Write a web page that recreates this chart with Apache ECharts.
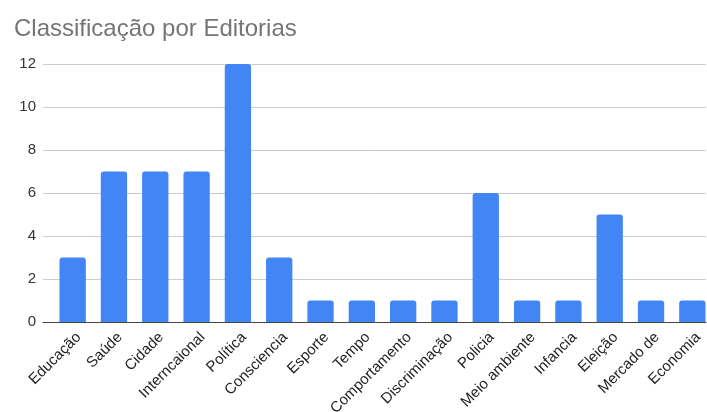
<!DOCTYPE html>
<html><head><meta charset="utf-8">
<script src="https://cdn.jsdelivr.net/npm/echarts@6/dist/echarts.min.js"></script>
<style>html,body{margin:0;padding:0;background:#fff}#c{width:707px;height:412px}</style>
</head><body><div id="c"></div>
<script>
const categories = ["Educação","Saúde","Cidade","Interncaional","Política","Consciencia","Esporte","Tempo","Comportamento","Discriminação","Policia","Meio ambiente","Infancia","Eleição","Mercado de","Economia"];
const values = [3,7,7,7,12,3,1,1,1,1,6,1,1,5,1,1];
const yTicks = [0,2,4,6,8,10,12];

const FONT = 'Arial, "Liberation Sans", sans-serif';
const chart = echarts.init(document.getElementById('c'), null, {renderer:'canvas'});
chart.setOption({
  animation:false,
  title:{text:'Classificação por Editorias',left:9,top:12,textStyle:{fontFamily:FONT,fontSize:24,fontWeight:'normal',color:'#757575'}},
  grid:[
    {left:43,right:1,top:64,bottom:90,containLabel:false,outerBoundsMode:'none'},
    {left:52,width:661,top:64,bottom:90,containLabel:false,outerBoundsMode:'none'},
    {left:58,width:661,top:64,bottom:90,containLabel:false,outerBoundsMode:'none'}
  ],
  xAxis:[
    {type:'value',gridIndex:0,min:0,max:1,axisLine:{show:true,onZero:false,lineStyle:{color:'#444',width:1}},
     axisTick:{show:false},axisLabel:{show:false},splitLine:{show:false}},
    {type:'category',gridIndex:1,data:categories,
     axisLine:{show:false},axisTick:{show:false},axisLabel:{show:false}},
    {type:'category',gridIndex:2,data:categories,
     axisLine:{show:false},axisTick:{show:false},
     axisLabel:{rotate:45,interval:0,fontFamily:FONT,fontSize:15,color:'#222',margin:13}}
  ],
  yAxis:[
    {type:'value',gridIndex:0,min:yTicks[0],max:yTicks[yTicks.length-1],interval:2,
     axisLine:{show:false},axisTick:{show:false},
     splitLine:{lineStyle:{color:'#cccccc'}},
     axisLabel:{fontFamily:FONT,fontSize:15,color:'#333',margin:7}},
    {type:'value',gridIndex:1,min:yTicks[0],max:yTicks[yTicks.length-1],interval:2,show:false,splitLine:{show:false}},
    {type:'value',gridIndex:2,min:yTicks[0],max:yTicks[yTicks.length-1],interval:2,show:false,splitLine:{show:false}}
  ],
  series:[{type:'bar',xAxisIndex:1,yAxisIndex:1,data:values,barWidth:'63.7%',itemStyle:{color:'#4285f4',borderRadius:[3,3,0,0]}}]
});
</script></body></html>
